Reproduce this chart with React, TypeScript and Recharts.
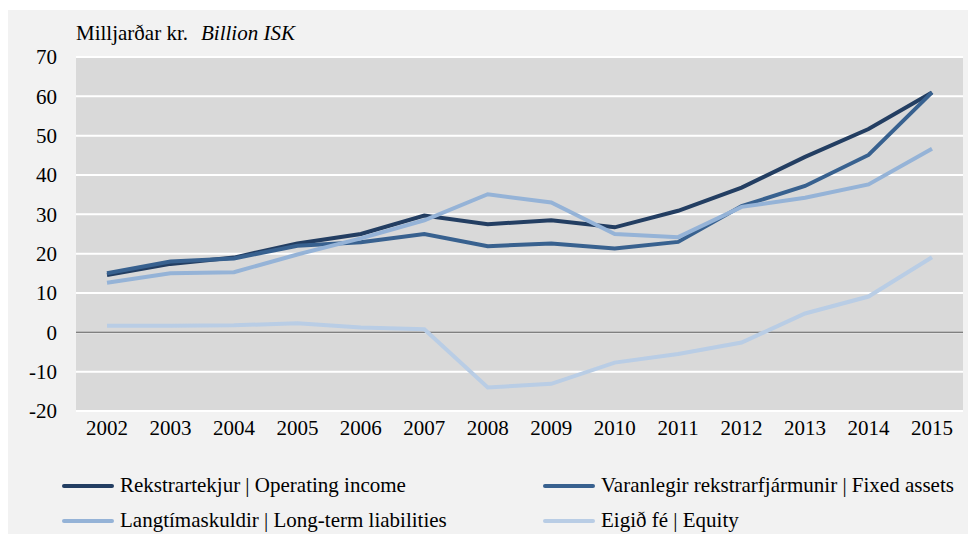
import React from 'react';
import { LineChart, Line, XAxis, YAxis, CartesianGrid, ReferenceLine, Legend } from 'recharts';

const years = ['2002', '2003', '2004', '2005', '2006', '2007', '2008', '2009', '2010', '2011', '2012', '2013', '2014', '2015'];
const operatingIncome = [14.6, 17.4, 19.0, 22.6, 25.0, 29.7, 27.5, 28.5, 26.7, 30.9, 36.8, 44.6, 51.7, 61.0];
const fixedAssets = [15.0, 18.0, 18.8, 22.0, 22.9, 25.0, 21.9, 22.6, 21.3, 23.0, 32.1, 37.2, 45.1, 61.0];
const longTermLiabilities = [12.6, 15.0, 15.3, 19.8, 23.9, 28.5, 35.1, 33.0, 25.0, 24.2, 31.9, 34.2, 37.6, 46.7];
const equity = [1.7, 1.7, 1.8, 2.3, 1.2, 0.8, -14.0, -13.1, -7.7, -5.5, -2.6, 4.8, 9.1, 19.1];
const yTicks = [-20, -10, 0, 10, 20, 30, 40, 50, 60, 70];

const series = [
  { key: 'operating', name: 'Rekstrartekjur | Operating income', color: '#233e62' },
  { key: 'fixed', name: 'Varanlegir rekstrarfjármunir | Fixed assets', color: '#38618f' },
  { key: 'liabilities', name: 'Langtímaskuldir | Long-term liabilities', color: '#95b3d7' },
  { key: 'equity', name: 'Eigið fé | Equity', color: '#b9cde5' },
];

const data = years.map((year, i) => ({
  year,
  operating: operatingIncome[i],
  fixed: fixedAssets[i],
  liabilities: longTermLiabilities[i],
  equity: equity[i],
}));

const FONT = 'Liberation Serif, DejaVu Serif, serif';
const FS = 21;

const LegendBox = () => (
  <div style={{ position: 'relative', width: 968, height: 80, fontFamily: FONT, fontSize: FS, color: '#000' }}>
    {series.map((s, i) => (
      <div
        key={s.key}
        style={{
          position: 'absolute',
          left: i % 2 === 0 ? 54 : 535,
          top: Math.floor(i / 2) * 35,
          height: 35,
          display: 'flex',
          alignItems: 'center',
          whiteSpace: 'nowrap',
        }}
      >
        <div style={{ width: 52, height: 4, borderRadius: 2, backgroundColor: s.color, marginRight: 6 }} />
        {s.name}
      </div>
    ))}
  </div>
);

const Title = () => (
  <text x={68} y={30} fontFamily={FONT} fontSize={FS} fill="#000">
    <tspan>Milljarðar kr.</tspan>
    <tspan fontStyle="italic" dx={13}>Billion ISK</tspan>
  </text>
);

const tickStyle = { fill: '#000', fontSize: FS, fontFamily: FONT };

export default function App() {
  return (
    <div style={{ marginTop: 2, width: 968, height: 524, background: '#f2f2f2', fontFamily: FONT }}>
      <LineChart width={968} height={524} data={data} margin={{ top: 47, right: 13, left: 0, bottom: 8 }}>
        <CartesianGrid vertical={false} stroke="#ffffff" strokeWidth={2} fill="#d9d9d9" />
        <XAxis
          dataKey="year"
          height={35}
          padding={{ left: 31, right: 31 }}
          axisLine={false}
          tickLine={false}
          tickSize={0}
          tickMargin={9}
          interval={0}
          tick={tickStyle}
        />
        <YAxis
          width={68}
          domain={[-20, 70]}
          ticks={yTicks}
          axisLine={false}
          tickLine={false}
          tickSize={0}
          tickMargin={19}
          tick={tickStyle}
          label={{ content: () => <Title /> }}
        />
        <ReferenceLine y={0} stroke="#808080" strokeWidth={1.5} />
        {series.map((s) => (
          <Line
            key={s.key}
            type="linear"
            dataKey={s.key}
            name={s.name}
            stroke={s.color}
            strokeWidth={4}
            dot={false}
            activeDot={false}
            isAnimationActive={false}
          />
        ))}
        <Legend
          verticalAlign="bottom"
          wrapperStyle={{ top: 458, left: 0, width: 968, height: 80 }}
          content={() => <LegendBox />}
        />
      </LineChart>
    </div>
  );
}
